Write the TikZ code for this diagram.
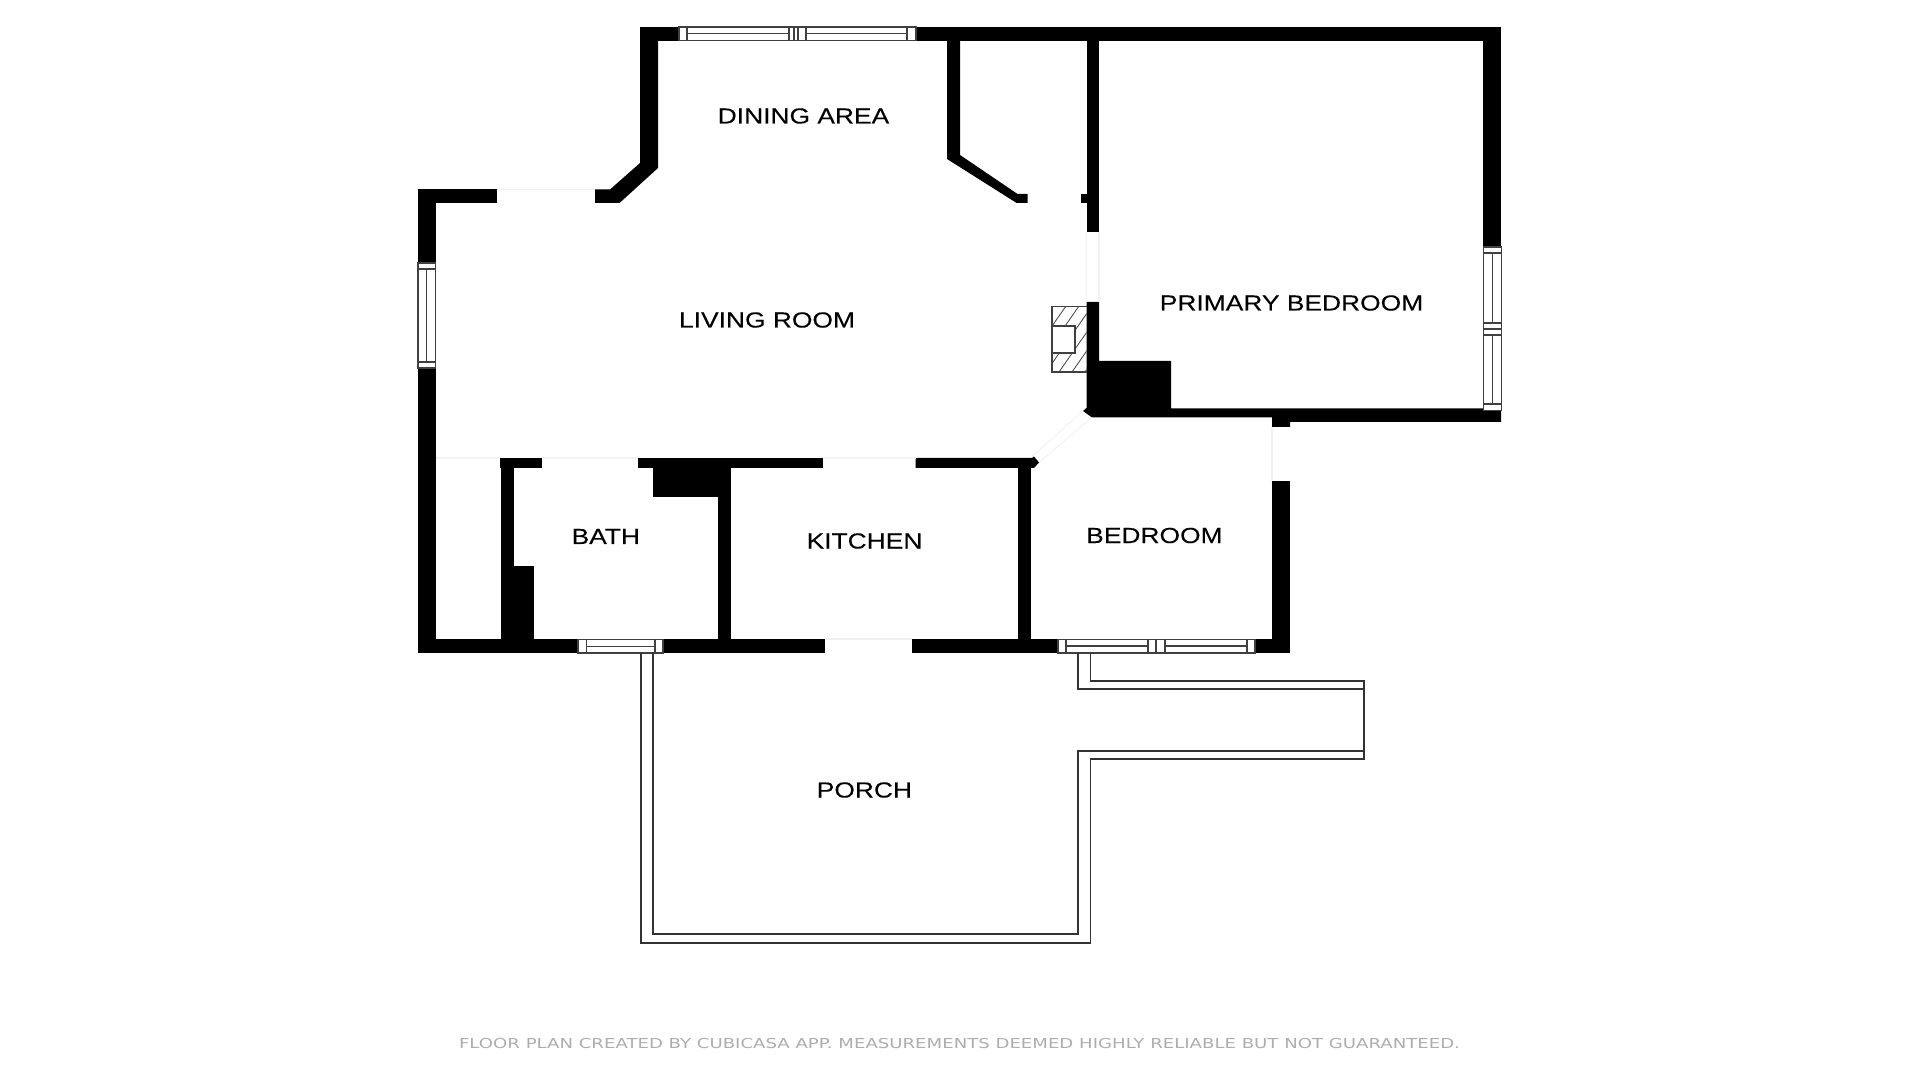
\documentclass[tikz,border=0pt]{standalone}
\usepackage{fontspec}
\newfontfamily\planfont[FakeStretch=1.21,FakeBold=0.12]{Liberation Sans}
\newfontfamily\notefont[FakeStretch=1.32]{DejaVu Sans}
\definecolor{notegray}{gray}{0.68}
\definecolor{doorgray}{gray}{0.95}
\tikzset{
  wall/.style={fill=black,draw=none},
  pane/.style={draw=black!75,line width=0.3pt,fill=white},
  sash/.style={draw=black!75,line width=0.3pt},
  porchline/.style={draw=black!80,line width=0.5pt},
  doorline/.style={draw=doorgray,line width=0.3pt},
  hatchline/.style={draw=black!70,line width=0.25pt},
  roomlabel/.style={font=\planfont\fontsize{6.2pt}{7pt}\selectfont,inner sep=0pt,text=black},
  notelabel/.style={font=\notefont\fontsize{3.9pt}{5pt}\selectfont,inner sep=0pt,text=notegray}
}
\begin{document}
\begin{tikzpicture}[x=0.01cm,y=-0.01cm]
  \useasboundingbox (0,0) rectangle (1919,1080);

  % outer walls
  \fill[wall] (640,27) rectangle (679,41);
  \fill[wall] (916,27) rectangle (1501,41);
  \fill[wall] (1483,41) rectangle (1501,247);
  \fill[wall] (640,41) -- (658,41) -- (658,168) -- (619.5,203) -- (595,203) -- (595,189.5) -- (610,189.5) -- (640,163) -- cycle;
  \fill[wall] (417.5,189.5) rectangle (496.5,203);
  \fill[wall] (417.5,203) rectangle (436,263);
  \fill[wall] (417.5,368) rectangle (436,653);
  \fill[wall] (436,639) rectangle (578,653);
  \fill[wall] (663,639) rectangle (824.5,653);
  \fill[wall] (912,639) rectangle (1058,653);
  \fill[wall] (1255,639) rectangle (1290,653);
  \fill[wall] (1272,481) rectangle (1290,639);

  % dining area, right side
  \fill[wall] (947,41) -- (960,41) -- (960,155) -- (1017.5,194) -- (1027.6,194) -- (1027.6,203) -- (1016.6,203) -- (947,159) -- cycle;
  \fill[wall] (1086.5,41) rectangle (1099,232);
  \fill[wall] (1080.5,194) rectangle (1086.5,203);

  % primary bedroom corner
  \fill[wall] (1086.5,302) -- (1099,302) -- (1099,361) -- (1171,361) -- (1171,408.5) -- (1501,408.5) -- (1501,422) -- (1290,422) -- (1290,427) -- (1272,427) -- (1272,417.5) -- (1092,417.5) -- (1083,411) -- (1086.5,408) -- cycle;

  % middle walls
  \fill[wall] (499.5,458) rectangle (541.5,468);
  \fill[wall] (638,458) rectangle (822.5,468);
  \fill[wall] (915.5,458) -- (1032,458) -- (1034,456.5) -- (1039,462.5) -- (1034,468) -- (915.5,468) -- cycle;
  \fill[wall] (501,468) rectangle (514,639);
  \fill[wall] (514,566.5) rectangle (533.5,639);
  \fill[wall] (653,468) rectangle (718,497);
  \fill[wall] (718,468) rectangle (730.5,639);
  \fill[wall] (1018,468) rectangle (1030.5,639);

  % door openings
  \draw[doorline] (496.5,189.5) -- (595,189.5);
  \draw[doorline] (1086.5,232) -- (1086.5,302) (1099,232) -- (1099,302);
  \draw[doorline] (1272,427) -- (1272,481);
  \draw[doorline] (436,458) -- (499.5,458) (541.5,458) -- (638,458) (822.5,458) -- (915.5,458);
  \draw[doorline] (824.5,639) -- (912,639);
  \draw[doorline] (1032,456.5) -- (1083,411) (1039,462.5) -- (1092,417.5);

  % windows
  \draw[pane] (679,27) rectangle (916,40.5);
  \draw[sash] (687,27) -- (687,40.5) (789,27) -- (789,40.5) (794,27) -- (794,40.5) (798,27) -- (798,40.5) (806,27) -- (806,40.5) (907,27) -- (907,40.5);
  \draw[sash] (687,33.7) -- (789,33.7) (806,33.7) -- (907,33.7);
  \draw[pane] (418,263) rectangle (435.5,368);
  \draw[sash] (418,269) -- (435.5,269) (418,362) -- (435.5,362) (426.7,269) -- (426.7,362);
  \draw[pane] (1483.5,247) rectangle (1501,410.5);
  \draw[sash] (1483.5,253) -- (1501,253) (1483.5,323) -- (1501,323) (1483.5,329) -- (1501,329) (1483.5,335) -- (1501,335) (1483.5,404) -- (1501,404);
  \draw[sash] (1492,253) -- (1492,323) (1492,335) -- (1492,404);
  \draw[pane] (578,639.5) rectangle (663,653);
  \draw[sash] (586.5,639.5) -- (586.5,653) (655,639.5) -- (655,653) (586.5,646.5) -- (655,646.5);
  \draw[pane] (1058,639.5) rectangle (1255,653);
  \draw[sash] (1066,639.5) -- (1066,653) (1148,639.5) -- (1148,653) (1156,639.5) -- (1156,653) (1165,639.5) -- (1165,653) (1247,639.5) -- (1247,653);
  \draw[sash] (1066,646) -- (1148,646) (1165,646) -- (1247,646);

  % fireplace
  \begin{scope}
    \clip (1052,306.5) rectangle (1086.5,372);
    \foreach \hx in {1020,1033,...,1150}
      \draw[hatchline] (\hx,372) -- ++(46,-66);
  \end{scope}
  \draw[sash] (1086.5,306.5) -- (1052,306.5) -- (1052,372) -- (1086.5,372);
  \draw[pane] (1052,326) rectangle (1075,353);

  % porch
  \draw[porchline] (640.7,653) -- (640.7,942.7) -- (1090.5,942.7) -- (1090.5,759.3) -- (1364,759.3) -- (1364,680.7) -- (1090.5,680.7) -- (1090.5,653);
  \draw[porchline] (652.7,653) -- (652.7,934) -- (1078.3,934) -- (1078.3,751) -- (1364,751);
  \draw[porchline] (1364,689) -- (1078.3,689) -- (1078.3,653);

  % labels
  \node[roomlabel] (dining) at (803.5,116) {DINING AREA};
  \node[roomlabel] (living) at (767,320) {LIVING ROOM};
  \node[roomlabel] (primary) at (1291.5,303) {PRIMARY BEDROOM};
  \node[roomlabel] (bath) at (605.8,536.5) {BATH};
  \node[roomlabel] (kitchen) at (864.5,541) {KITCHEN};
  \node[roomlabel] (bedroom) at (1154.4,535.5) {BEDROOM};
  \node[roomlabel] (porch) at (864.4,790) {PORCH};
  \node[notelabel] (note) at (959.5,1043) {FLOOR PLAN CREATED BY CUBICASA APP. MEASUREMENTS DEEMED HIGHLY RELIABLE BUT NOT GUARANTEED.};
\end{tikzpicture}
\end{document}
